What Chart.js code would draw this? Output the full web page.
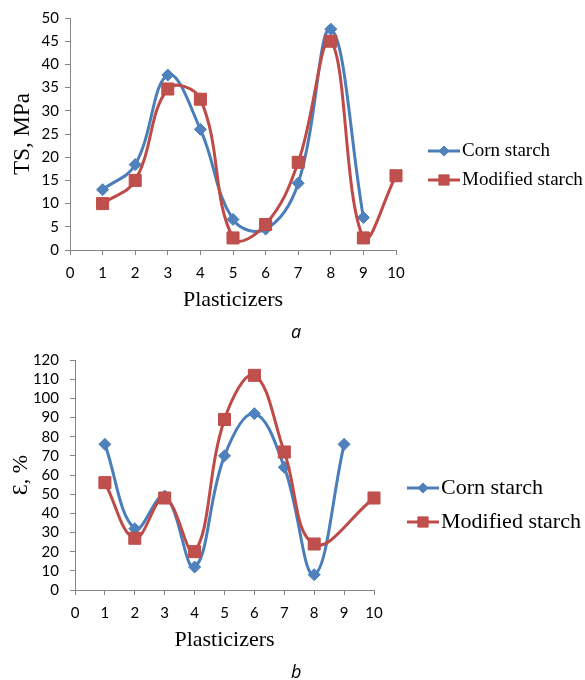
<!DOCTYPE html>
<html><head><meta charset="utf-8">
<script src="https://cdn.jsdelivr.net/npm/chart.js@4.4.1/dist/chart.umd.min.js"></script>
<style>
html,body{margin:0;padding:0;background:#fff;}
#wrap{position:relative;width:585px;height:680px;overflow:hidden;background:#fff;}
canvas{position:absolute;left:0;}
.cap{position:absolute;font-family:"Open Sans",sans-serif;font-style:italic;font-size:18px;line-height:24px;color:#000;}
</style></head><body>
<div id="wrap">
<canvas id="ca" width="585" height="340" style="top:0"></canvas>
<canvas id="cb" width="585" height="340" style="top:340px"></canvas>
<div class="cap" style="left:291px;top:319px">a</div>
<div class="cap" style="left:291px;top:659px">b</div>
</div>
<script>
// ---- data ----
const plasticizers = [1, 2, 3, 4, 5, 6, 7, 8, 9, 10];
const seriesNames = ['Corn starch', 'Modified starch'];
const tsCorn      = [13, 18.4, 37.7, 26, 6.6, 4.5, 14.4, 47.6, 7, null];
const tsModified  = [10, 15, 34.7, 32.5, 2.6, 5.5, 18.9, 45, 2.6, 16];
const elCorn      = [76, 32, 49, 12, 70, 92, 64, 8, 76, null];
const elModified  = [56, 27, 48, 20, 89, 112, 72, 24, null, 48];
const xTicks = [0, 1, 2, 3, 4, 5, 6, 7, 8, 9, 10];
const tsTicks = [0, 5, 10, 15, 20, 25, 30, 35, 40, 45, 50];
const elTicks = [0, 10, 20, 30, 40, 50, 60, 70, 80, 90, 100, 110, 120];

const BLUE = '#4a7ebb', BLUE_F = '#4f81bd';
const RED = '#be4b48', RED_F = '#c0504d';
const AXIS = '#868686';
const TICK_FONT = {family: 'Lato, "Liberation Sans", sans-serif', size: 15};
const SERIF = '"Liberation Serif", "Times New Roman", serif';

function pts(vals) {
  const out = [];
  plasticizers.forEach((x, i) => { if (vals[i] !== null) out.push({x: x, y: vals[i]}); });
  return out;
}

function datasets(corn, mod) {
  return [
    {label: seriesNames[0], data: pts(corn), borderColor: BLUE, backgroundColor: BLUE_F,
     pointBackgroundColor: BLUE_F, pointBorderColor: BLUE, pointStyle: 'rectRot', pointRadius: 6,
     pointBorderWidth: 1, borderWidth: 3, tension: 0.4, clip: false, order: 1, fill: false},
    {label: seriesNames[1], data: pts(mod), borderColor: RED, backgroundColor: RED_F,
     pointBackgroundColor: RED_F, pointBorderColor: RED, pointStyle: 'rect', pointRadius: 8.5,
     pointBorderWidth: 1, borderWidth: 3, tension: 0.4, clip: false, order: 0, fill: false}
  ];
}

const sideLegend = {
  id: 'sideLegend',
  afterDraw(chart, args, o) {
    const ctx = chart.ctx;
    ctx.save();
    chart.data.datasets.forEach((ds, i) => {
      const y = o.ys[i];
      ctx.strokeStyle = ds.borderColor; ctx.lineWidth = 3; ctx.lineCap = 'butt';
      ctx.beginPath(); ctx.moveTo(o.x1, y); ctx.lineTo(o.x2, y); ctx.stroke();
      ctx.fillStyle = ds.pointBackgroundColor; ctx.strokeStyle = ds.pointBorderColor; ctx.lineWidth = 1;
      Chart.helpers.drawPoint(ctx, {pointStyle: ds.pointStyle, radius: ds.pointRadius * 0.85, borderWidth: 1, rotation: 0}, (o.x1 + o.x2) / 2, y);
      ctx.fillStyle = '#000';
      ctx.font = o.size + 'px ' + SERIF;
      ctx.textBaseline = 'middle'; ctx.textAlign = 'left';
      ctx.fillText(ds.label, o.tx, y);
    });
    ctx.restore();
  }
};

function makeChart(id, corn, mod, yTicks, yTitle, yTitleSize, pad, yW, yTitlePad, yTickPad, legend) {
  return new Chart(document.getElementById(id), {
    type: 'line',
    data: {datasets: datasets(corn, mod)},
    plugins: [sideLegend],
    options: {
      responsive: false, animation: false, devicePixelRatio: 1,
      layout: {padding: pad},
      plugins: {legend: {display: false}, tooltip: {enabled: false}, sideLegend: legend},
      scales: {
        x: {type: 'linear', min: xTicks[0], max: xTicks[xTicks.length - 1],
            afterBuildTicks(s) { s.ticks = xTicks.map(v => ({value: v})); },
            ticks: {font: TICK_FONT, color: '#000', padding: 9, maxRotation: 0, autoSkip: false},
            grid: {display: true, drawOnChartArea: false, drawTicks: true, tickLength: 5, color: AXIS},
            border: {display: true, color: AXIS, width: 1},
            title: {display: true, text: 'Plasticizers', color: '#000',
                    font: {family: SERIF, size: 22},
                    padding: {top: 0, bottom: 27}},
            afterFit(s) { s.height = 90; }},
        y: {type: 'linear', min: yTicks[0], max: yTicks[yTicks.length - 1],
            afterBuildTicks(s) { s.ticks = yTicks.map(v => ({value: v})); },
            ticks: {font: TICK_FONT, color: '#000', padding: yTickPad, autoSkip: false},
            grid: {display: true, drawOnChartArea: false, drawTicks: true, tickLength: 5, color: AXIS},
            border: {display: true, color: AXIS, width: 1},
            title: {display: true, text: yTitle, color: '#000',
                    font: {family: SERIF, size: yTitleSize},
                    padding: {top: yTitlePad, bottom: 0}},
            afterFit(s) { s.width = yW; }}
      }
    }
  });
}

makeChart('ca', tsCorn, tsModified, tsTicks, 'TS, MPa', 23, {left: 0, right: 189, top: 18, bottom: 0}, 70, 9, 6,
  {x1: 428, x2: 460, tx: 462, ys: [151, 180], size: 19});
makeChart('cb', elCorn, elModified, elTicks, 'Ɛ, %', 22, {left: 0, right: 211, top: 16, bottom: 0}, 75, 8, 11,
  {x1: 407, x2: 439, tx: 441, ys: [148, 182], size: 22});
</script>
</body></html>
